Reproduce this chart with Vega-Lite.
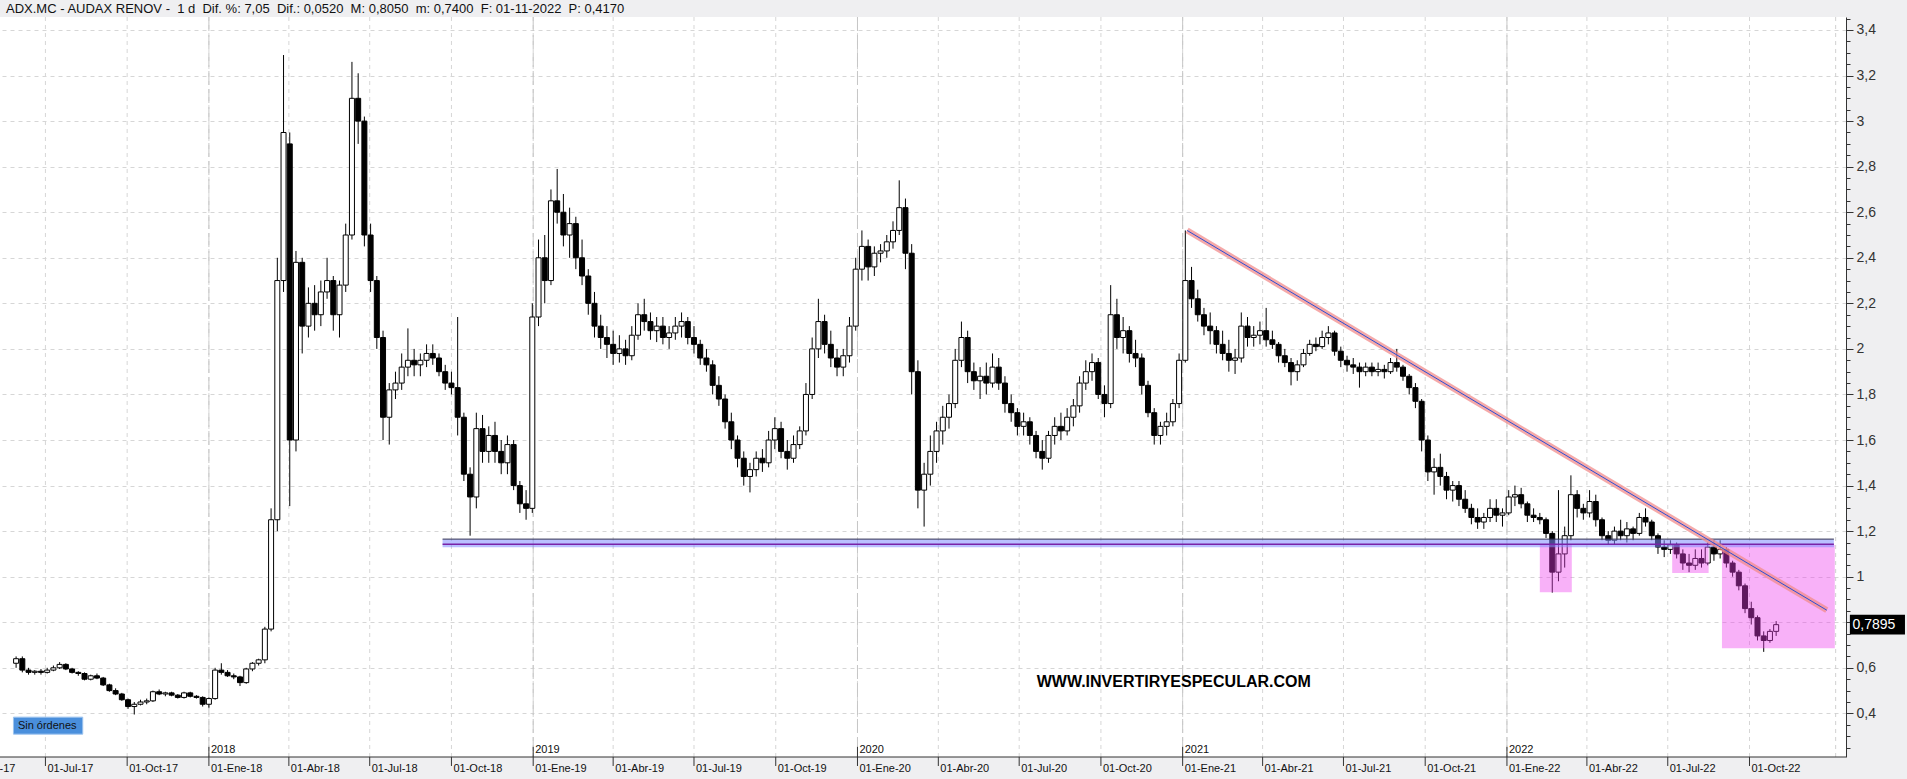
{
  "$schema": "https://vega.github.io/schema/vega-lite/v6.json",
  "width": 1846,
  "height": 740,
  "autosize": {"type": "none"},
  "padding": {"left": 0, "top": 17, "right": 61, "bottom": 22},
  "background": "#efeff1",
  "view": {"fill": "white", "stroke": null},
  "config": {"font": "Liberation Sans"},
  "title": {
    "text": "ADX.MC - AUDAX RENOV -\u00a0 1 d\u00a0 Dif. %: 7,05\u00a0 Dif.: 0,0520\u00a0 M: 0,8050\u00a0 m: 0,7400\u00a0 F: 01-11-2022\u00a0 P: 0,4170",
    "anchor": "start",
    "frame": "group",
    "fontSize": 13,
    "fontWeight": "normal",
    "color": "#111111",
    "offset": 1,
    "dx": 6
  },
  "resolve": {"axis": {"y": "independent"}},
  "datasets": {
    "years": [
      {"date": "2018-01-01", "label": "2018"},
      {"date": "2019-01-01", "label": "2019"},
      {"date": "2020-01-01", "label": "2020"},
      {"date": "2021-01-01", "label": "2021"},
      {"date": "2022-01-01", "label": "2022"}
    ],
    "quarters": [
      {"date": "2017-04-01", "label": "01-Abr-17"},
      {"date": "2017-07-01", "label": "01-Jul-17"},
      {"date": "2017-10-01", "label": "01-Oct-17"},
      {"date": "2018-01-01", "label": "01-Ene-18"},
      {"date": "2018-04-01", "label": "01-Abr-18"},
      {"date": "2018-07-01", "label": "01-Jul-18"},
      {"date": "2018-10-01", "label": "01-Oct-18"},
      {"date": "2019-01-01", "label": "01-Ene-19"},
      {"date": "2019-04-01", "label": "01-Abr-19"},
      {"date": "2019-07-01", "label": "01-Jul-19"},
      {"date": "2019-10-01", "label": "01-Oct-19"},
      {"date": "2020-01-01", "label": "01-Ene-20"},
      {"date": "2020-04-01", "label": "01-Abr-20"},
      {"date": "2020-07-01", "label": "01-Jul-20"},
      {"date": "2020-10-01", "label": "01-Oct-20"},
      {"date": "2021-01-01", "label": "01-Ene-21"},
      {"date": "2021-04-01", "label": "01-Abr-21"},
      {"date": "2021-07-01", "label": "01-Jul-21"},
      {"date": "2021-10-01", "label": "01-Oct-21"},
      {"date": "2022-01-01", "label": "01-Ene-22"},
      {"date": "2022-04-01", "label": "01-Abr-22"},
      {"date": "2022-07-01", "label": "01-Jul-22"},
      {"date": "2022-10-01", "label": "01-Oct-22"}
    ],
    "ohlc": [
      {"date":"2017-05-29","open":0.62,"high":0.65,"low":0.6,"close":0.64},
      {"date":"2017-06-05","open":0.64,"high":0.65,"low":0.58,"close":0.59},
      {"date":"2017-06-12","open":0.59,"high":0.6,"low":0.57,"close":0.58},
      {"date":"2017-06-19","open":0.58,"high":0.59,"low":0.57,"close":0.585},
      {"date":"2017-06-26","open":0.585,"high":0.595,"low":0.57,"close":0.58},
      {"date":"2017-07-03","open":0.58,"high":0.6,"low":0.575,"close":0.59},
      {"date":"2017-07-10","open":0.59,"high":0.61,"low":0.585,"close":0.6},
      {"date":"2017-07-17","open":0.6,"high":0.625,"low":0.595,"close":0.615},
      {"date":"2017-07-24","open":0.615,"high":0.62,"low":0.59,"close":0.595},
      {"date":"2017-07-31","open":0.595,"high":0.6,"low":0.575,"close":0.58},
      {"date":"2017-08-07","open":0.58,"high":0.585,"low":0.565,"close":0.575},
      {"date":"2017-08-14","open":0.575,"high":0.58,"low":0.545,"close":0.55},
      {"date":"2017-08-21","open":0.55,"high":0.57,"low":0.545,"close":0.565},
      {"date":"2017-08-28","open":0.565,"high":0.575,"low":0.55,"close":0.555},
      {"date":"2017-09-04","open":0.555,"high":0.56,"low":0.52,"close":0.525},
      {"date":"2017-09-11","open":0.525,"high":0.53,"low":0.495,"close":0.5},
      {"date":"2017-09-18","open":0.5,"high":0.51,"low":0.48,"close":0.485},
      {"date":"2017-09-25","open":0.485,"high":0.49,"low":0.455,"close":0.46},
      {"date":"2017-10-02","open":0.46,"high":0.465,"low":0.42,"close":0.43},
      {"date":"2017-10-09","open":0.43,"high":0.45,"low":0.395,"close":0.44},
      {"date":"2017-10-16","open":0.44,"high":0.46,"low":0.435,"close":0.45},
      {"date":"2017-10-23","open":0.45,"high":0.465,"low":0.44,"close":0.455},
      {"date":"2017-10-30","open":0.455,"high":0.5,"low":0.45,"close":0.495},
      {"date":"2017-11-06","open":0.495,"high":0.505,"low":0.48,"close":0.485},
      {"date":"2017-11-13","open":0.485,"high":0.495,"low":0.475,"close":0.49},
      {"date":"2017-11-20","open":0.49,"high":0.495,"low":0.475,"close":0.48},
      {"date":"2017-11-27","open":0.48,"high":0.485,"low":0.465,"close":0.47},
      {"date":"2017-12-04","open":0.47,"high":0.495,"low":0.465,"close":0.49},
      {"date":"2017-12-11","open":0.49,"high":0.495,"low":0.47,"close":0.475},
      {"date":"2017-12-18","open":0.475,"high":0.48,"low":0.465,"close":0.47},
      {"date":"2017-12-25","open":0.47,"high":0.475,"low":0.43,"close":0.44},
      {"date":"2018-01-01","open":0.44,"high":0.47,"low":0.425,"close":0.465},
      {"date":"2018-01-08","open":0.465,"high":0.6,"low":0.46,"close":0.59},
      {"date":"2018-01-15","open":0.59,"high":0.62,"low":0.57,"close":0.58},
      {"date":"2018-01-22","open":0.58,"high":0.59,"low":0.56,"close":0.565},
      {"date":"2018-01-29","open":0.565,"high":0.575,"low":0.55,"close":0.56},
      {"date":"2018-02-05","open":0.56,"high":0.565,"low":0.52,"close":0.535},
      {"date":"2018-02-12","open":0.535,"high":0.6,"low":0.53,"close":0.595},
      {"date":"2018-02-19","open":0.595,"high":0.625,"low":0.585,"close":0.62},
      {"date":"2018-02-26","open":0.62,"high":0.64,"low":0.61,"close":0.635},
      {"date":"2018-03-05","open":0.635,"high":0.78,"low":0.62,"close":0.77},
      {"date":"2018-03-12","open":0.77,"high":1.3,"low":0.76,"close":1.25},
      {"date":"2018-03-19","open":1.25,"high":2.4,"low":1.2,"close":2.3},
      {"date":"2018-03-26","open":2.3,"high":3.29,"low":2.25,"close":2.95},
      {"date":"2018-04-02","open":2.9,"high":2.95,"low":1.31,"close":1.6},
      {"date":"2018-04-09","open":1.6,"high":2.43,"low":1.55,"close":2.38},
      {"date":"2018-04-16","open":2.38,"high":2.4,"low":1.98,"close":2.1},
      {"date":"2018-04-23","open":2.1,"high":2.27,"low":2.05,"close":2.2},
      {"date":"2018-04-30","open":2.2,"high":2.28,"low":2.08,"close":2.15},
      {"date":"2018-05-07","open":2.15,"high":2.3,"low":2.1,"close":2.25},
      {"date":"2018-05-14","open":2.25,"high":2.4,"low":2.22,"close":2.3},
      {"date":"2018-05-21","open":2.3,"high":2.32,"low":2.08,"close":2.15},
      {"date":"2018-05-28","open":2.15,"high":2.3,"low":2.05,"close":2.28},
      {"date":"2018-06-04","open":2.28,"high":2.55,"low":2.25,"close":2.5},
      {"date":"2018-06-11","open":2.5,"high":3.26,"low":2.48,"close":3.1},
      {"date":"2018-06-18","open":3.1,"high":3.21,"low":2.9,"close":3.0},
      {"date":"2018-06-25","open":3.0,"high":3.02,"low":2.45,"close":2.5},
      {"date":"2018-07-02","open":2.5,"high":2.55,"low":2.25,"close":2.3},
      {"date":"2018-07-09","open":2.3,"high":2.32,"low":2.0,"close":2.05},
      {"date":"2018-07-16","open":2.05,"high":2.08,"low":1.6,"close":1.7},
      {"date":"2018-07-23","open":1.7,"high":1.85,"low":1.58,"close":1.82},
      {"date":"2018-07-30","open":1.82,"high":1.9,"low":1.78,"close":1.85},
      {"date":"2018-08-06","open":1.85,"high":1.98,"low":1.82,"close":1.92},
      {"date":"2018-08-13","open":1.92,"high":2.09,"low":1.88,"close":1.95},
      {"date":"2018-08-20","open":1.95,"high":2.0,"low":1.88,"close":1.93},
      {"date":"2018-08-27","open":1.93,"high":1.98,"low":1.88,"close":1.95},
      {"date":"2018-09-03","open":1.95,"high":2.02,"low":1.92,"close":1.98},
      {"date":"2018-09-10","open":1.98,"high":2.02,"low":1.93,"close":1.96},
      {"date":"2018-09-17","open":1.96,"high":1.98,"low":1.88,"close":1.9},
      {"date":"2018-09-24","open":1.9,"high":1.93,"low":1.82,"close":1.85},
      {"date":"2018-10-01","open":1.85,"high":1.9,"low":1.8,"close":1.83},
      {"date":"2018-10-08","open":1.83,"high":2.14,"low":1.62,"close":1.7},
      {"date":"2018-10-15","open":1.7,"high":1.72,"low":1.42,"close":1.45},
      {"date":"2018-10-22","open":1.45,"high":1.48,"low":1.18,"close":1.35},
      {"date":"2018-10-29","open":1.35,"high":1.72,"low":1.3,"close":1.65},
      {"date":"2018-11-05","open":1.65,"high":1.71,"low":1.5,"close":1.55},
      {"date":"2018-11-12","open":1.55,"high":1.66,"low":1.5,"close":1.62},
      {"date":"2018-11-19","open":1.62,"high":1.68,"low":1.5,"close":1.55},
      {"date":"2018-11-26","open":1.55,"high":1.6,"low":1.45,"close":1.5},
      {"date":"2018-12-03","open":1.5,"high":1.62,"low":1.45,"close":1.58},
      {"date":"2018-12-10","open":1.58,"high":1.6,"low":1.38,"close":1.4},
      {"date":"2018-12-17","open":1.4,"high":1.42,"low":1.28,"close":1.32},
      {"date":"2018-12-24","open":1.32,"high":1.38,"low":1.25,"close":1.3},
      {"date":"2018-12-31","open":1.3,"high":2.2,"low":1.28,"close":2.14},
      {"date":"2019-01-07","open":2.14,"high":2.48,"low":2.1,"close":2.4},
      {"date":"2019-01-14","open":2.4,"high":2.5,"low":2.2,"close":2.3},
      {"date":"2019-01-21","open":2.3,"high":2.7,"low":2.28,"close":2.65},
      {"date":"2019-01-28","open":2.65,"high":2.79,"low":2.55,"close":2.6},
      {"date":"2019-02-04","open":2.6,"high":2.68,"low":2.45,"close":2.5},
      {"date":"2019-02-11","open":2.5,"high":2.62,"low":2.4,"close":2.55},
      {"date":"2019-02-18","open":2.55,"high":2.58,"low":2.35,"close":2.4},
      {"date":"2019-02-25","open":2.4,"high":2.48,"low":2.28,"close":2.32},
      {"date":"2019-03-04","open":2.32,"high":2.35,"low":2.15,"close":2.2},
      {"date":"2019-03-11","open":2.2,"high":2.25,"low":2.05,"close":2.1},
      {"date":"2019-03-18","open":2.1,"high":2.15,"low":2.0,"close":2.05},
      {"date":"2019-03-25","open":2.05,"high":2.1,"low":1.96,"close":2.02},
      {"date":"2019-04-01","open":2.02,"high":2.08,"low":1.93,"close":1.98},
      {"date":"2019-04-08","open":1.98,"high":2.06,"low":1.94,"close":2.0},
      {"date":"2019-04-15","open":2.0,"high":2.04,"low":1.93,"close":1.97},
      {"date":"2019-04-22","open":1.97,"high":2.1,"low":1.95,"close":2.06},
      {"date":"2019-04-29","open":2.06,"high":2.2,"low":2.04,"close":2.15},
      {"date":"2019-05-06","open":2.15,"high":2.22,"low":2.08,"close":2.12},
      {"date":"2019-05-13","open":2.12,"high":2.16,"low":2.04,"close":2.08},
      {"date":"2019-05-20","open":2.08,"high":2.14,"low":2.03,"close":2.1},
      {"date":"2019-05-27","open":2.1,"high":2.14,"low":2.02,"close":2.05},
      {"date":"2019-06-03","open":2.05,"high":2.1,"low":2.0,"close":2.07},
      {"date":"2019-06-10","open":2.07,"high":2.14,"low":2.04,"close":2.1},
      {"date":"2019-06-17","open":2.1,"high":2.16,"low":2.05,"close":2.12},
      {"date":"2019-06-24","open":2.12,"high":2.14,"low":2.02,"close":2.05},
      {"date":"2019-07-01","open":2.05,"high":2.1,"low":1.98,"close":2.02},
      {"date":"2019-07-08","open":2.02,"high":2.04,"low":1.93,"close":1.96},
      {"date":"2019-07-15","open":1.96,"high":2.0,"low":1.9,"close":1.93},
      {"date":"2019-07-22","open":1.93,"high":1.95,"low":1.8,"close":1.84},
      {"date":"2019-07-29","open":1.84,"high":1.88,"low":1.75,"close":1.78},
      {"date":"2019-08-05","open":1.78,"high":1.8,"low":1.65,"close":1.68},
      {"date":"2019-08-12","open":1.68,"high":1.72,"low":1.56,"close":1.6},
      {"date":"2019-08-19","open":1.6,"high":1.62,"low":1.48,"close":1.52},
      {"date":"2019-08-26","open":1.52,"high":1.55,"low":1.4,"close":1.44},
      {"date":"2019-09-02","open":1.44,"high":1.5,"low":1.37,"close":1.47},
      {"date":"2019-09-09","open":1.47,"high":1.55,"low":1.44,"close":1.52},
      {"date":"2019-09-16","open":1.52,"high":1.56,"low":1.46,"close":1.5},
      {"date":"2019-09-23","open":1.5,"high":1.64,"low":1.48,"close":1.6},
      {"date":"2019-09-30","open":1.6,"high":1.7,"low":1.56,"close":1.65},
      {"date":"2019-10-07","open":1.65,"high":1.68,"low":1.52,"close":1.55},
      {"date":"2019-10-14","open":1.55,"high":1.6,"low":1.47,"close":1.52},
      {"date":"2019-10-21","open":1.52,"high":1.62,"low":1.5,"close":1.58},
      {"date":"2019-10-28","open":1.58,"high":1.66,"low":1.56,"close":1.64},
      {"date":"2019-11-04","open":1.64,"high":1.85,"low":1.62,"close":1.8},
      {"date":"2019-11-11","open":1.8,"high":2.05,"low":1.78,"close":2.0},
      {"date":"2019-11-18","open":2.0,"high":2.22,"low":1.96,"close":2.12},
      {"date":"2019-11-25","open":2.12,"high":2.15,"low":1.98,"close":2.02},
      {"date":"2019-12-02","open":2.02,"high":2.08,"low":1.92,"close":1.96},
      {"date":"2019-12-09","open":1.96,"high":2.0,"low":1.88,"close":1.92},
      {"date":"2019-12-16","open":1.92,"high":2.0,"low":1.88,"close":1.97},
      {"date":"2019-12-23","open":1.97,"high":2.14,"low":1.94,"close":2.1},
      {"date":"2019-12-30","open":2.1,"high":2.4,"low":2.08,"close":2.35},
      {"date":"2020-01-06","open":2.35,"high":2.52,"low":2.3,"close":2.45},
      {"date":"2020-01-13","open":2.45,"high":2.48,"low":2.3,"close":2.36},
      {"date":"2020-01-20","open":2.36,"high":2.45,"low":2.32,"close":2.42},
      {"date":"2020-01-27","open":2.42,"high":2.46,"low":2.38,"close":2.43},
      {"date":"2020-02-03","open":2.43,"high":2.5,"low":2.4,"close":2.47},
      {"date":"2020-02-10","open":2.47,"high":2.56,"low":2.44,"close":2.52},
      {"date":"2020-02-17","open":2.52,"high":2.74,"low":2.5,"close":2.62},
      {"date":"2020-02-24","open":2.62,"high":2.66,"low":2.35,"close":2.42},
      {"date":"2020-03-02","open":2.42,"high":2.46,"low":1.8,"close":1.9},
      {"date":"2020-03-09","open":1.9,"high":1.95,"low":1.3,"close":1.38},
      {"date":"2020-03-16","open":1.38,"high":1.5,"low":1.22,"close":1.45},
      {"date":"2020-03-23","open":1.45,"high":1.62,"low":1.4,"close":1.55},
      {"date":"2020-03-30","open":1.55,"high":1.68,"low":1.5,"close":1.64},
      {"date":"2020-04-06","open":1.64,"high":1.75,"low":1.58,"close":1.7},
      {"date":"2020-04-13","open":1.7,"high":1.8,"low":1.65,"close":1.76},
      {"date":"2020-04-20","open":1.76,"high":2.0,"low":1.74,"close":1.95},
      {"date":"2020-04-27","open":1.95,"high":2.12,"low":1.92,"close":2.05},
      {"date":"2020-05-04","open":2.05,"high":2.08,"low":1.85,"close":1.9},
      {"date":"2020-05-11","open":1.9,"high":1.94,"low":1.82,"close":1.86},
      {"date":"2020-05-18","open":1.86,"high":1.92,"low":1.78,"close":1.88},
      {"date":"2020-05-25","open":1.88,"high":1.94,"low":1.8,"close":1.85},
      {"date":"2020-06-01","open":1.85,"high":1.98,"low":1.83,"close":1.92},
      {"date":"2020-06-08","open":1.92,"high":1.96,"low":1.82,"close":1.85},
      {"date":"2020-06-15","open":1.85,"high":1.88,"low":1.72,"close":1.76},
      {"date":"2020-06-22","open":1.76,"high":1.8,"low":1.68,"close":1.72},
      {"date":"2020-06-29","open":1.72,"high":1.74,"low":1.62,"close":1.66},
      {"date":"2020-07-06","open":1.66,"high":1.72,"low":1.62,"close":1.68},
      {"date":"2020-07-13","open":1.68,"high":1.7,"low":1.58,"close":1.62},
      {"date":"2020-07-20","open":1.62,"high":1.64,"low":1.52,"close":1.55},
      {"date":"2020-07-27","open":1.55,"high":1.6,"low":1.47,"close":1.52},
      {"date":"2020-08-03","open":1.52,"high":1.64,"low":1.5,"close":1.62},
      {"date":"2020-08-10","open":1.62,"high":1.7,"low":1.58,"close":1.66},
      {"date":"2020-08-17","open":1.66,"high":1.72,"low":1.6,"close":1.64},
      {"date":"2020-08-24","open":1.64,"high":1.74,"low":1.62,"close":1.7},
      {"date":"2020-08-31","open":1.7,"high":1.78,"low":1.66,"close":1.75},
      {"date":"2020-09-07","open":1.75,"high":1.88,"low":1.72,"close":1.85},
      {"date":"2020-09-14","open":1.85,"high":1.95,"low":1.82,"close":1.9},
      {"date":"2020-09-21","open":1.9,"high":1.98,"low":1.86,"close":1.94},
      {"date":"2020-09-28","open":1.94,"high":1.96,"low":1.78,"close":1.8},
      {"date":"2020-10-05","open":1.8,"high":1.84,"low":1.7,"close":1.76},
      {"date":"2020-10-12","open":1.76,"high":2.28,"low":1.74,"close":2.15},
      {"date":"2020-10-19","open":2.15,"high":2.22,"low":2.0,"close":2.05},
      {"date":"2020-10-26","open":2.05,"high":2.14,"low":1.98,"close":2.08},
      {"date":"2020-11-02","open":2.08,"high":2.1,"low":1.94,"close":1.98},
      {"date":"2020-11-09","open":1.98,"high":2.04,"low":1.92,"close":1.96},
      {"date":"2020-11-16","open":1.96,"high":1.98,"low":1.8,"close":1.84},
      {"date":"2020-11-23","open":1.84,"high":1.86,"low":1.7,"close":1.72},
      {"date":"2020-11-30","open":1.72,"high":1.74,"low":1.58,"close":1.62},
      {"date":"2020-12-07","open":1.62,"high":1.68,"low":1.58,"close":1.66},
      {"date":"2020-12-14","open":1.66,"high":1.72,"low":1.62,"close":1.68},
      {"date":"2020-12-21","open":1.68,"high":1.78,"low":1.66,"close":1.76},
      {"date":"2020-12-28","open":1.76,"high":1.98,"low":1.74,"close":1.95},
      {"date":"2021-01-04","open":1.95,"high":2.52,"low":1.94,"close":2.3},
      {"date":"2021-01-11","open":2.3,"high":2.36,"low":2.18,"close":2.22},
      {"date":"2021-01-18","open":2.22,"high":2.26,"low":2.12,"close":2.15},
      {"date":"2021-01-25","open":2.15,"high":2.18,"low":2.06,"close":2.1},
      {"date":"2021-02-01","open":2.1,"high":2.16,"low":2.02,"close":2.08},
      {"date":"2021-02-08","open":2.08,"high":2.1,"low":1.98,"close":2.02},
      {"date":"2021-02-15","open":2.02,"high":2.08,"low":1.95,"close":1.98},
      {"date":"2021-02-22","open":1.98,"high":2.04,"low":1.9,"close":1.95},
      {"date":"2021-03-01","open":1.95,"high":2.0,"low":1.89,"close":1.96},
      {"date":"2021-03-08","open":1.96,"high":2.16,"low":1.94,"close":2.1},
      {"date":"2021-03-15","open":2.1,"high":2.14,"low":2.01,"close":2.05},
      {"date":"2021-03-22","open":2.05,"high":2.1,"low":2.01,"close":2.06},
      {"date":"2021-03-29","open":2.06,"high":2.12,"low":2.02,"close":2.08},
      {"date":"2021-04-05","open":2.08,"high":2.18,"low":2.01,"close":2.04},
      {"date":"2021-04-12","open":2.04,"high":2.08,"low":2.0,"close":2.02},
      {"date":"2021-04-19","open":2.02,"high":2.03,"low":1.94,"close":1.97},
      {"date":"2021-04-26","open":1.97,"high":2.0,"low":1.92,"close":1.94},
      {"date":"2021-05-03","open":1.94,"high":1.96,"low":1.84,"close":1.9},
      {"date":"2021-05-10","open":1.9,"high":1.95,"low":1.86,"close":1.93},
      {"date":"2021-05-17","open":1.93,"high":2.0,"low":1.92,"close":1.98},
      {"date":"2021-05-24","open":1.98,"high":2.04,"low":1.97,"close":2.02},
      {"date":"2021-05-31","open":2.02,"high":2.05,"low":1.99,"close":2.01},
      {"date":"2021-06-07","open":2.01,"high":2.08,"low":2.0,"close":2.05},
      {"date":"2021-06-14","open":2.05,"high":2.1,"low":2.02,"close":2.07},
      {"date":"2021-06-21","open":2.07,"high":2.08,"low":1.97,"close":1.99},
      {"date":"2021-06-28","open":1.99,"high":2.01,"low":1.92,"close":1.95},
      {"date":"2021-07-05","open":1.95,"high":1.97,"low":1.9,"close":1.93},
      {"date":"2021-07-12","open":1.93,"high":1.96,"low":1.89,"close":1.92},
      {"date":"2021-07-19","open":1.92,"high":1.94,"low":1.83,"close":1.9},
      {"date":"2021-07-26","open":1.9,"high":1.94,"low":1.88,"close":1.92},
      {"date":"2021-08-02","open":1.92,"high":1.94,"low":1.88,"close":1.9},
      {"date":"2021-08-09","open":1.9,"high":1.94,"low":1.88,"close":1.91},
      {"date":"2021-08-16","open":1.91,"high":1.93,"low":1.87,"close":1.9},
      {"date":"2021-08-23","open":1.9,"high":1.96,"low":1.89,"close":1.94},
      {"date":"2021-08-30","open":1.94,"high":2.0,"low":1.9,"close":1.92},
      {"date":"2021-09-06","open":1.92,"high":1.93,"low":1.86,"close":1.88},
      {"date":"2021-09-13","open":1.88,"high":1.89,"low":1.8,"close":1.83},
      {"date":"2021-09-20","open":1.83,"high":1.85,"low":1.74,"close":1.77},
      {"date":"2021-09-27","open":1.77,"high":1.78,"low":1.55,"close":1.6},
      {"date":"2021-10-04","open":1.6,"high":1.62,"low":1.42,"close":1.46},
      {"date":"2021-10-11","open":1.46,"high":1.52,"low":1.36,"close":1.48},
      {"date":"2021-10-18","open":1.48,"high":1.54,"low":1.4,"close":1.44},
      {"date":"2021-10-25","open":1.44,"high":1.46,"low":1.34,"close":1.38},
      {"date":"2021-11-01","open":1.38,"high":1.42,"low":1.33,"close":1.4},
      {"date":"2021-11-08","open":1.4,"high":1.42,"low":1.31,"close":1.34},
      {"date":"2021-11-15","open":1.34,"high":1.38,"low":1.28,"close":1.3},
      {"date":"2021-11-22","open":1.3,"high":1.32,"low":1.23,"close":1.26},
      {"date":"2021-11-29","open":1.26,"high":1.3,"low":1.21,"close":1.24},
      {"date":"2021-12-06","open":1.24,"high":1.28,"low":1.21,"close":1.26},
      {"date":"2021-12-13","open":1.26,"high":1.34,"low":1.24,"close":1.3},
      {"date":"2021-12-20","open":1.3,"high":1.34,"low":1.24,"close":1.27},
      {"date":"2021-12-27","open":1.27,"high":1.3,"low":1.22,"close":1.28},
      {"date":"2022-01-03","open":1.28,"high":1.38,"low":1.27,"close":1.35},
      {"date":"2022-01-10","open":1.35,"high":1.4,"low":1.31,"close":1.36},
      {"date":"2022-01-17","open":1.36,"high":1.39,"low":1.3,"close":1.32},
      {"date":"2022-01-24","open":1.32,"high":1.33,"low":1.24,"close":1.27},
      {"date":"2022-01-31","open":1.27,"high":1.3,"low":1.24,"close":1.26},
      {"date":"2022-02-07","open":1.26,"high":1.28,"low":1.23,"close":1.25},
      {"date":"2022-02-14","open":1.25,"high":1.26,"low":1.17,"close":1.19},
      {"date":"2022-02-21","open":1.19,"high":1.2,"low":0.93,"close":1.02},
      {"date":"2022-02-28","open":1.02,"high":1.38,"low":0.98,"close":1.1},
      {"date":"2022-03-07","open":1.1,"high":1.22,"low":1.04,"close":1.18},
      {"date":"2022-03-14","open":1.18,"high":1.445,"low":1.16,"close":1.36},
      {"date":"2022-03-21","open":1.36,"high":1.38,"low":1.26,"close":1.3},
      {"date":"2022-03-28","open":1.3,"high":1.32,"low":1.25,"close":1.28},
      {"date":"2022-04-04","open":1.28,"high":1.38,"low":1.26,"close":1.33},
      {"date":"2022-04-11","open":1.33,"high":1.36,"low":1.22,"close":1.25},
      {"date":"2022-04-18","open":1.25,"high":1.26,"low":1.16,"close":1.18},
      {"date":"2022-04-25","open":1.18,"high":1.2,"low":1.14,"close":1.16},
      {"date":"2022-05-02","open":1.16,"high":1.22,"low":1.14,"close":1.2},
      {"date":"2022-05-09","open":1.2,"high":1.25,"low":1.16,"close":1.18},
      {"date":"2022-05-16","open":1.18,"high":1.24,"low":1.15,"close":1.21},
      {"date":"2022-05-23","open":1.21,"high":1.22,"low":1.16,"close":1.19},
      {"date":"2022-05-30","open":1.19,"high":1.28,"low":1.18,"close":1.26},
      {"date":"2022-06-06","open":1.26,"high":1.3,"low":1.22,"close":1.24},
      {"date":"2022-06-13","open":1.24,"high":1.25,"low":1.16,"close":1.18},
      {"date":"2022-06-20","open":1.18,"high":1.19,"low":1.1,"close":1.13},
      {"date":"2022-06-27","open":1.13,"high":1.16,"low":1.086,"close":1.12},
      {"date":"2022-07-04","open":1.12,"high":1.16,"low":1.1,"close":1.14},
      {"date":"2022-07-11","open":1.14,"high":1.15,"low":1.08,"close":1.1},
      {"date":"2022-07-18","open":1.1,"high":1.12,"low":1.03,"close":1.06},
      {"date":"2022-07-25","open":1.06,"high":1.1,"low":1.02,"close":1.05},
      {"date":"2022-08-01","open":1.05,"high":1.12,"low":1.03,"close":1.08},
      {"date":"2022-08-08","open":1.08,"high":1.12,"low":1.04,"close":1.06},
      {"date":"2022-08-15","open":1.06,"high":1.15,"low":1.05,"close":1.13},
      {"date":"2022-08-22","open":1.13,"high":1.16,"low":1.07,"close":1.1},
      {"date":"2022-08-29","open":1.1,"high":1.16,"low":1.08,"close":1.12},
      {"date":"2022-09-05","open":1.12,"high":1.13,"low":1.04,"close":1.06},
      {"date":"2022-09-12","open":1.06,"high":1.07,"low":1.0,"close":1.02},
      {"date":"2022-09-19","open":1.02,"high":1.03,"low":0.94,"close":0.96},
      {"date":"2022-09-26","open":0.96,"high":0.97,"low":0.84,"close":0.86},
      {"date":"2022-10-03","open":0.86,"high":0.89,"low":0.79,"close":0.82},
      {"date":"2022-10-10","open":0.82,"high":0.83,"low":0.72,"close":0.74},
      {"date":"2022-10-17","open":0.74,"high":0.76,"low":0.67,"close":0.72},
      {"date":"2022-10-24","open":0.72,"high":0.77,"low":0.71,"close":0.76},
      {"date":"2022-10-31","open":0.76,"high":0.805,"low":0.74,"close":0.7895}
    ],
    "support": [{"start": "2018-09-21", "end": "2023-01-04", "price": 1.147}],
    "trend": [{"start": "2021-01-06", "end": "2022-12-27", "from": 2.52, "to": 0.853}],
    "boxes": [
      {"start": "2022-02-07", "end": "2022-03-15", "lo": 0.932, "hi": 1.139},
      {"start": "2022-07-06", "end": "2022-08-16", "lo": 1.016, "hi": 1.139},
      {"start": "2022-08-31", "end": "2023-01-05", "lo": 0.686, "hi": 1.139}
    ],
    "notes": [{"date": "2020-12-22", "price": 0.5173, "text": "WWW.INVERTIRYESPECULAR.COM"}]
  },
  "layer": [
    {
      "data": {"name": "quarters"},
      "mark": {"type": "rule", "color": "#d6d6d6", "strokeDash": [4, 4], "strokeWidth": 1},
      "encoding": {
        "x": {
          "field": "date", "type": "temporal",
          "scale": {"type": "utc", "domain": [{"year": 2017, "month": 5, "date": 16, "hours": 12, "utc": true}, {"year": 2023, "month": 1, "date": 12, "utc": true}]},
          "axis": null
        }
      }
    },
    {
      "data": {"name": "years"},
      "mark": {"type": "rule", "color": "#c6c6c6", "strokeDash": [14, 4], "strokeWidth": 1},
      "encoding": {"x": {"field": "date", "type": "temporal", "axis": null}}
    },
    {
      "data": {"values": [{"k": 1}]},
      "mark": {"type": "rule", "color": "#d0d0d0", "strokeDash": [4, 4]},
      "encoding": {"x": {"datum": {"year": 2023, "month": 1, "date": 6, "utc": true}, "type": "temporal", "axis": null}}
    },
    {
      "data": {"name": "ohlc"},
      "mark": {"type": "rule", "color": "black", "strokeWidth": 1},
      "encoding": {
        "x": {"field": "date", "type": "temporal", "axis": null},
        "y": {
          "field": "low", "type": "quantitative",
          "scale": {"domain": [0.2085, 3.457], "nice": false, "zero": false},
          "axis": {
            "orient": "right",
            "title": null,
            "values": [0.4, 0.6, 0.8, 1, 1.2, 1.4, 1.6, 1.8, 2, 2.2, 2.4, 2.6, 2.8, 3, 3.2, 3.4],
            "labelExpr": "datum.value == 0.8 ? '' : replace(format(datum.value, '.1~f'), '.', ',')",
            "labelFontSize": 14,
            "labelColor": "#333333",
            "labelPadding": 3,
            "tickSize": 7,
            "tickColor": "#333333",
            "domainColor": "#333333",
            "grid": true,
            "gridDash": [4, 4],
            "gridColor": "#d6d6d6"
          }
        },
        "y2": {"field": "high"}
      }
    },
    {
      "data": {"name": "ohlc"},
      "mark": {"type": "bar", "size": 5, "stroke": "black", "strokeWidth": 1},
      "encoding": {
        "x": {"field": "date", "type": "temporal", "axis": null},
        "y": {
          "field": "open", "type": "quantitative",
          "axis": {
            "orient": "right",
            "title": null,
            "values": [0.25, 0.3, 0.35, 0.45, 0.5, 0.55, 0.65, 0.7, 0.75, 0.85, 0.9, 0.95, 1.05, 1.1, 1.15, 1.25, 1.3, 1.35, 1.45, 1.5, 1.55, 1.65, 1.7, 1.75, 1.85, 1.9, 1.95, 2.05, 2.1, 2.15, 2.25, 2.3, 2.35, 2.45, 2.5, 2.55, 2.65, 2.7, 2.75, 2.85, 2.9, 2.95, 3.05, 3.1, 3.15, 3.25, 3.3, 3.35, 3.45],
            "labels": false,
            "domain": false,
            "grid": false,
            "tickSize": 4,
            "tickColor": "#333333"
          }
        },
        "y2": {"field": "close"},
        "fill": {"condition": {"test": "datum.close >= datum.open", "value": "white"}, "value": "black"}
      }
    },
    {
      "data": {"name": "boxes"},
      "mark": {"type": "rect", "fill": "#ee3cee", "opacity": 0.4},
      "encoding": {
        "x": {"field": "start", "type": "temporal", "axis": null},
        "x2": {"field": "end"},
        "y": {"field": "lo", "type": "quantitative", "axis": null},
        "y2": {"field": "hi"}
      }
    },
    {
      "data": {"name": "support"},
      "mark": {"type": "rule", "color": "#7f8cff", "strokeWidth": 8, "opacity": 0.55},
      "encoding": {
        "x": {"field": "start", "type": "temporal", "axis": null},
        "x2": {"field": "end"},
        "y": {"field": "price", "type": "quantitative", "axis": null}
      }
    },
    {
      "data": {"name": "support"},
      "mark": {"type": "rule", "color": "#303050", "strokeWidth": 1},
      "encoding": {
        "x": {"field": "start", "type": "temporal", "axis": null},
        "x2": {"field": "end"},
        "y": {"datum": 1.165, "type": "quantitative", "axis": null}
      }
    },
    {
      "data": {"name": "support"},
      "mark": {"type": "rule", "color": "#7a22a8", "strokeWidth": 1.5},
      "encoding": {
        "x": {"field": "start", "type": "temporal", "axis": null},
        "x2": {"field": "end"},
        "y": {"datum": 1.142, "type": "quantitative", "axis": null}
      }
    },
    {
      "data": {"name": "trend"},
      "mark": {"type": "rule", "color": "#f28c8c", "strokeWidth": 6, "opacity": 0.75},
      "encoding": {
        "x": {"field": "start", "type": "temporal", "axis": null},
        "x2": {"field": "end"},
        "y": {"field": "from", "type": "quantitative", "axis": null},
        "y2": {"field": "to"}
      }
    },
    {
      "data": {"name": "trend"},
      "mark": {"type": "rule", "color": "#2a4fd6", "strokeWidth": 1},
      "encoding": {
        "x": {"field": "start", "type": "temporal", "axis": null},
        "x2": {"field": "end"},
        "y": {"field": "from", "type": "quantitative", "axis": null},
        "y2": {"field": "to"}
      }
    },
    {
      "data": {"name": "notes"},
      "mark": {"type": "text", "fontSize": 16, "fontWeight": "bold", "color": "black", "align": "center", "baseline": "alphabetic"},
      "encoding": {
        "x": {"field": "date", "type": "temporal", "axis": null},
        "y": {"field": "price", "type": "quantitative", "axis": null},
        "text": {"field": "text"}
      }
    },
    {
      "data": {"values": [{"k": 1}]},
      "mark": {"type": "rule", "color": "#333333", "strokeWidth": 1},
      "encoding": {"y": {"datum": 0.2085, "type": "quantitative", "axis": null}}
    },
    {
      "data": {"name": "quarters"},
      "mark": {"type": "rule", "color": "#333333", "strokeWidth": 1},
      "encoding": {
        "x": {"field": "date", "type": "temporal", "axis": null},
        "y": {"datum": 0.2085, "type": "quantitative", "axis": null},
        "y2": {"datum": 0.169}
      }
    },
    {
      "data": {"name": "quarters"},
      "mark": {"type": "text", "fontSize": 11, "color": "#111111", "align": "left", "baseline": "top", "dx": 2},
      "encoding": {
        "x": {"field": "date", "type": "temporal", "axis": null},
        "y": {"datum": 0.182, "type": "quantitative", "axis": null},
        "text": {"field": "label"}
      }
    },
    {
      "data": {"name": "years"},
      "mark": {"type": "rule", "color": "#333333", "strokeWidth": 1},
      "encoding": {
        "x": {"field": "date", "type": "temporal", "axis": null},
        "y": {"datum": 0.253, "type": "quantitative", "axis": null},
        "y2": {"datum": 0.2085}
      }
    },
    {
      "data": {"name": "years"},
      "mark": {"type": "text", "fontSize": 11, "color": "#111111", "align": "left", "baseline": "alphabetic", "dx": 2},
      "encoding": {
        "x": {"field": "date", "type": "temporal", "axis": null},
        "y": {"datum": 0.2242, "type": "quantitative", "axis": null},
        "text": {"field": "label"}
      }
    },
    {
      "data": {"values": [{"k": 1}]},
      "mark": {"type": "rect", "fill": "#4a8fdc", "stroke": "#9cc3ef", "strokeWidth": 1},
      "encoding": {
        "x": {"datum": {"year": 2017, "month": 5, "date": 26, "utc": true}, "type": "temporal", "axis": null},
        "x2": {"datum": {"year": 2017, "month": 8, "date": 12, "utc": true}},
        "y": {"datum": 0.3835, "type": "quantitative", "axis": null},
        "y2": {"datum": 0.3089}
      }
    },
    {
      "data": {"values": [{"label": "Sin órdenes"}]},
      "mark": {"type": "text", "fontSize": 11, "color": "#111111", "align": "left", "baseline": "middle"},
      "encoding": {
        "x": {"datum": {"year": 2017, "month": 5, "date": 31, "utc": true}, "type": "temporal", "axis": null},
        "y": {"datum": 0.3462, "type": "quantitative", "axis": null},
        "text": {"field": "label"}
      }
    },
    {
      "data": {"values": [{"k": 1}]},
      "mark": {"type": "rect", "fill": "black"},
      "encoding": {
        "x": {"datum": {"year": 2023, "month": 1, "date": 22, "utc": true}, "type": "temporal", "axis": null},
        "x2": {"datum": {"year": 2023, "month": 3, "date": 25, "utc": true}},
        "y": {"datum": 0.746, "type": "quantitative", "axis": null},
        "y2": {"datum": 0.833}
      }
    },
    {
      "data": {"values": [{"label": "0,7895"}]},
      "mark": {"type": "text", "fontSize": 14, "color": "white", "align": "center", "baseline": "middle"},
      "encoding": {
        "x": {"datum": {"year": 2023, "month": 2, "date": 18, "utc": true}, "type": "temporal", "axis": null},
        "y": {"datum": 0.7895, "type": "quantitative", "axis": null},
        "text": {"field": "label"}
      }
    }
  ]
}
